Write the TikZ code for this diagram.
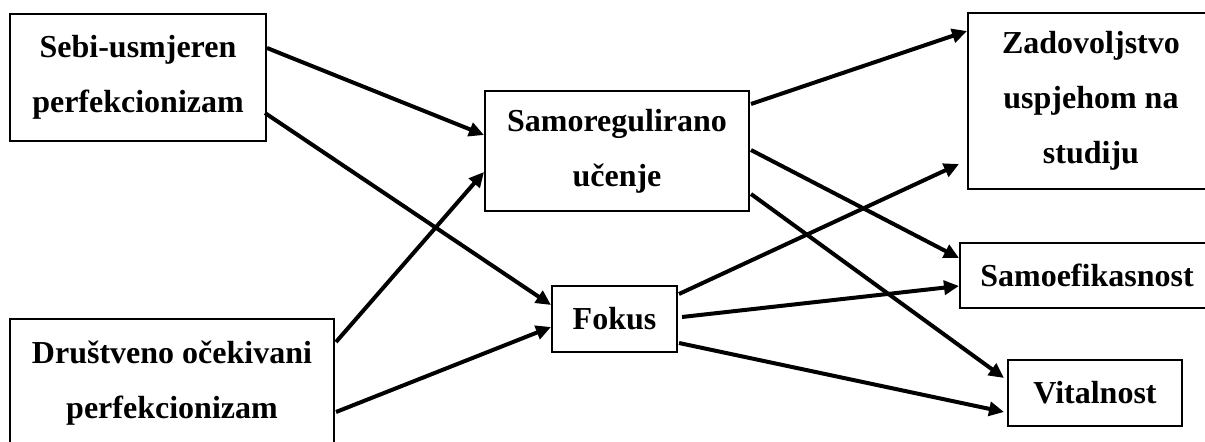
\documentclass[tikz,border=0pt]{standalone}
\usepackage{fontspec}
\setmainfont{Liberation Serif}
\usetikzlibrary{arrows.meta,calc}
\begin{document}
\begin{tikzpicture}[x=0.5pt, y=-0.5pt,
    box/.style={rectangle, draw, line width=1pt, align=center, inner sep=0pt,
      font=\fontsize{16}{27.5}\selectfont\bfseries},
    arr/.style={line width=2pt, -{Triangle[length=7.5pt, width=7pt]}}
    ]
  \useasboundingbox (0,0) rectangle (1205,442);
  % inputs
  \node[box, minimum width=128pt, minimum height=63.5pt] (sebi) at (138,77.5) {Sebi-usmjeren\\perfekcionizam};
  \node[box, minimum width=162pt, minimum height=64pt] (drus) at (172,383) {Društveno očekivani\\perfekcionizam};
  % mediators
  \node[box, minimum width=132pt, minimum height=60pt] (samo) at (617,151) {Samoregulirano\\učenje};
  \node[box, minimum width=62.5pt, minimum height=33pt] (fokus) at (614.5,319) {Fokus};
  % outcomes
  \node[box, minimum width=123pt, minimum height=88pt] (zad) at (1091,101) {Zadovoljstvo\\uspjehom na\\studiju};
  \node[box, minimum width=127pt, minimum height=32.5pt] (samoef) at (1087,275.5) {Samoefikasnost};
  \node[box, minimum width=87pt, minimum height=33pt] (vital) at (1095,393) {Vitalnost};

  \draw[arr] ($(sebi.east)+(0,-29.5)$) -- ($(samo.west)+(0,-16)$);
  \draw[arr] ($(sebi.east)+(-2,35.5)$) -- ($(fokus.west)+(0,-14)$);
  \draw[arr] ($(drus.east)+(1,-41)$) -- ($(samo.west)+(0,21)$);
  \draw[arr] ($(drus.east)+(1,29)$) -- ($(fokus.west)+(0,8)$);

  \draw[arr] ($(samo.east)+(1,-47)$) -- ($(zad.west)+(0,-70)$);
  \draw[arr] ($(samo.east)+(1,-1)$) -- ($(samoef.west)+(0,-17.5)$);
  \draw[arr] ($(samo.east)+(1,43)$) -- ($(vital.west)+(-3,-15)$);

  \draw[arr] ($(fokus.east)+(1,-25)$) -- ($(zad.west)+(-8,63)$);
  \draw[arr] ($(fokus.east)+(4,-2)$) -- ($(samoef.west)+(0,10.5)$);
  \draw[arr] ($(fokus.east)+(1,24)$) -- ($(vital.west)+(-3,19)$);
\end{tikzpicture}
\end{document}
